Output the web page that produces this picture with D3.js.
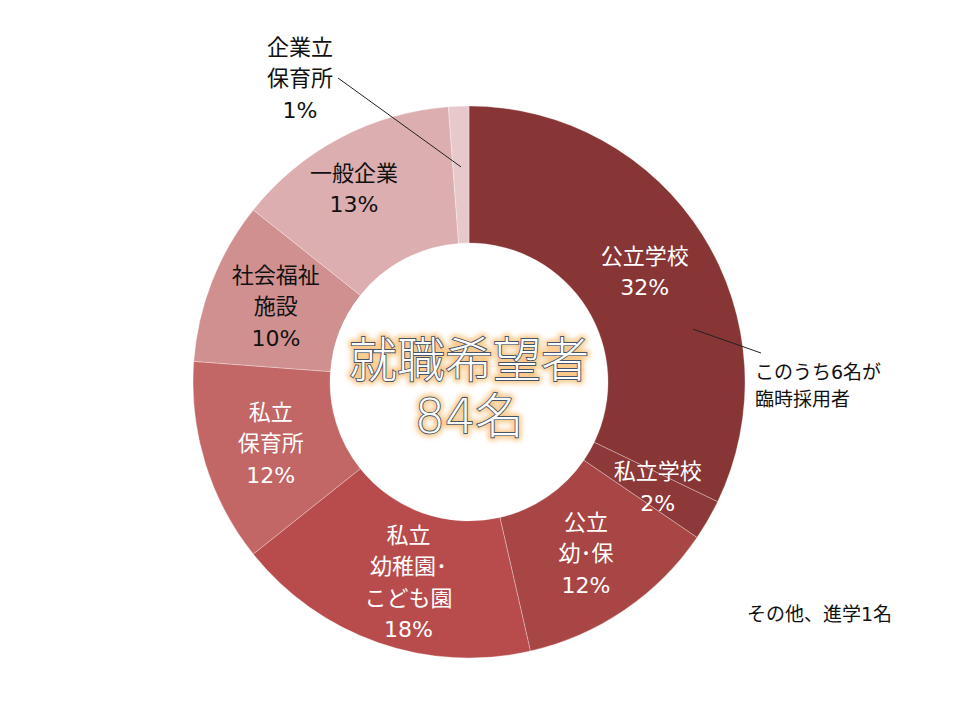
<!DOCTYPE html>
<html>
<head>
<meta charset="utf-8">
<script src="https://cdn.jsdelivr.net/npm/d3@7"></script>
<style>
  body { margin: 0; background: #fff; }
  text { font-family: "DejaVu Sans", "Noto Sans CJK JP", sans-serif; }
</style>
</head>
<body>
<div id="chart"></div>
<script>
// data (people, out of 84 job seekers)
const categories = ["公立学校", "私立学校", "公立幼・保", "私立幼稚園・こども園", "私立保育所", "社会福祉施設", "一般企業", "企業立保育所"];
const counts = [27, 2, 10, 15, 10, 8, 11, 1];
const percents = [32, 2, 12, 18, 12, 10, 13, 1];
const labelLines = [
    ["公立学校"],
    ["私立学校"],
    ["公立", "幼･保"],
    ["私立", "幼稚園･", "こども園"],
    ["私立", "保育所"],
    ["社会福祉", "施設"],
    ["一般企業"],
    ["企業立", "保育所"]
];
const sliceColors = ["#873535", "#8e3939", "#a84545", "#b84c4c", "#c26666", "#d09090", "#dcaeb0", "#e8c9cb"];
const darkText = [false, false, false, false, false, true, true, true];
const centerLines = ["就職希望者", "84名"];
const noteLines = ["このうち6名が", "臨時採用者"];
const footNote = "その他、進学1名";

const width = 960, height = 720;
const cx = 469, cy = 382;
const outerR = 276, innerR = 139;

const svg = d3.select("#chart").append("svg")
    .attr("width", width)
    .attr("height", height);

const defs = svg.append("defs");
const glow = defs.append("filter").attr("id", "glow")
    .attr("x", "-20%").attr("y", "-30%").attr("width", "140%").attr("height", "160%");
glow.append("feGaussianBlur").attr("stdDeviation", 2.5);

const g = svg.append("g").attr("transform", `translate(${cx},${cy})`);

const pie = d3.pie().sort(null).value(d => d);
const arcs = pie(counts);

const arc = d3.arc().innerRadius(innerR).outerRadius(outerR);
const labelArc = d3.arc().innerRadius((innerR + outerR) / 2).outerRadius((innerR + outerR) / 2);

g.selectAll("path.slice")
    .data(arcs)
    .enter()
    .append("path")
    .attr("class", "slice")
    .attr("d", arc)
    .style("fill", (d, i) => sliceColors[i])
    .style("stroke", "#fff")
    .style("stroke-opacity", 0.5)
    .style("stroke-width", 0.6);

// inside labels
const lineH = 31.5;
const fontSize = "22px";

d3.range(7).forEach(i => {
    const [x, y] = labelArc.centroid(arcs[i]);
    let lines = labelLines[i].concat([percents[i] + "%"]);
    let shift = (i === 6) ? [-18, -10] : (i === 3 ? [8, 4] : (i === 1 ? [9, 1] : [0, 0]));
    const t = g.append("text")
        .attr("text-anchor", "middle")
        .style("font-size", fontSize)
        .style("fill", darkText[i] ? "#111" : "#fff");
    lines.forEach((s, k) => {
        t.append("tspan")
            .attr("x", x + shift[0])
            .attr("y", y + shift[1] + (k - (lines.length - 1) / 2) * lineH + 8)
            .text(s);
    });
});

// outside label for the 1% slice
const small = arcs[7];
const edge = d3.arc().innerRadius(outerR * 0.78).outerRadius(outerR * 0.78).centroid(small);
const smallLines = labelLines[7].concat([percents[7] + "%"]);
const sx = 300 - cx, sy = 78 - cy;
const st = g.append("text")
    .attr("text-anchor", "middle")
    .style("font-size", fontSize)
    .style("fill", "#111");
smallLines.forEach((s, k) => {
    st.append("tspan")
        .attr("x", sx)
        .attr("y", sy + (k - 1) * lineH + 8)
        .text(s);
});
g.append("line")
    .attr("x1", sx + 38).attr("y1", sy)
    .attr("x2", edge[0]).attr("y2", edge[1])
    .style("stroke", "#222")
    .style("stroke-width", 1);

// annotation for 公立学校
const aAng = arcs[0].startAngle + (arcs[0].endAngle - arcs[0].startAngle) * 0.663;
const a0 = d3.arc().innerRadius(outerR * 0.834).outerRadius(outerR * 0.834)
    .startAngle(aAng).endAngle(aAng).centroid();
g.append("line")
    .attr("x1", a0[0]).attr("y1", a0[1])
    .attr("x2", 761 - cx).attr("y2", 353 - cy)
    .style("stroke", "#222")
    .style("stroke-width", 1);
const nt = svg.append("text")
    .style("font-size", "19px")
    .style("fill", "#111");
noteLines.forEach((s, k) => {
    nt.append("tspan").attr("x", 755).attr("y", 379 + k * 27).text(s);
});

svg.append("text")
    .attr("x", 747).attr("y", 621)
    .style("font-size", "19px")
    .style("fill", "#111")
    .text(footNote);

// center title
const centerY = [377, 433];
centerLines.forEach((s, k) => {
    g.append("text")
        .attr("text-anchor", "middle")
        .attr("y", centerY[k] - cy)
        .attr("filter", "url(#glow)")
        .style("font-size", "48px")
        .style("font-weight", 200)
        .style("fill", "none")
        .style("stroke", "#f7b35c")
        .style("stroke-opacity", 0.7)
        .style("stroke-width", 7)
        .style("stroke-linejoin", "round")
        .text(s);
    g.append("text")
        .attr("text-anchor", "middle")
        .attr("y", centerY[k] - cy)
        .style("font-size", "48px")
        .style("font-weight", 200)
        .style("fill", "#fff")
        .style("stroke", "#44546a")
        .style("stroke-width", 1.8)
        .style("paint-order", "stroke")
        .text(s);
});
</script>
</body>
</html>
